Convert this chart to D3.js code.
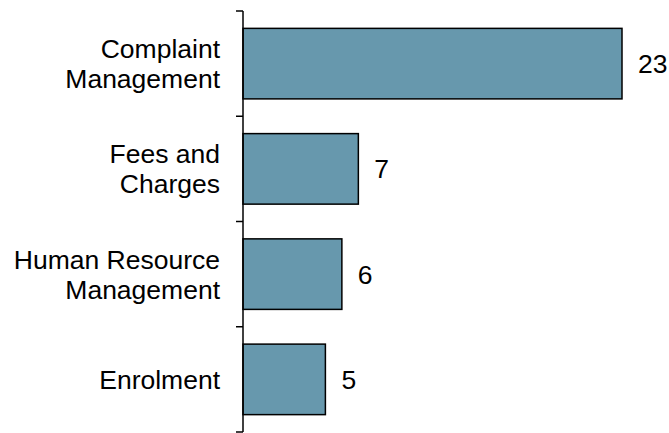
<!DOCTYPE html>
<html>
<head>
<meta charset="utf-8">
<script src="https://cdn.jsdelivr.net/npm/d3@7"></script>
<style>
  body { margin: 0; background: #fff; }
  text { font-family: "Liberation Sans", Arial, sans-serif; }
</style>
</head>
<body>
<div id="chart"></div>
<script>
// data
const categories = ['Complaint Management', 'Fees and Charges', 'Human Resource Management', 'Enrolment'];
const labelLines = [['Complaint', 'Management'], ['Fees and', 'Charges'], ['Human Resource', 'Management'], ['Enrolment']];
const values = [23, 7, 6, 5];

const width = 669, height = 433;
const axisX = 243, yTop = 11, yBottom = 432;

const svg = d3.select('#chart').append('svg')
  .attr('width', width)
  .attr('height', height);

const x = d3.scaleLinear().domain([0, 23]).range([axisX, 622]);
const y = d3.scaleBand().domain(categories).range([yTop, yBottom])
  .paddingInner(0.33).paddingOuter(0.165);

const step = y.step();

// bars
svg.selectAll('rect.bar')
  .data(categories)
  .enter().append('rect')
  .attr('class', 'bar')
  .attr('x', x(0))
  .attr('y', d => y(d))
  .attr('width', (d, i) => x(values[i]) - x(0))
  .attr('height', y.bandwidth())
  .attr('fill', '#6798ad')
  .attr('stroke', '#000')
  .attr('stroke-width', 1.5);

// axis line + boundary ticks
svg.append('line')
  .attr('x1', axisX).attr('x2', axisX)
  .attr('y1', yTop).attr('y2', yBottom)
  .attr('stroke', '#000').attr('stroke-width', 1.5);

d3.range(categories.length + 1).forEach(i => {
  const yy = yTop + i * step;
  svg.append('line')
    .attr('x1', axisX - 7).attr('x2', axisX)
    .attr('y1', yy).attr('y2', yy)
    .attr('stroke', '#000').attr('stroke-width', 1.5);
});

// category labels
const fs = 26.5, lh = 30;
categories.forEach((c, i) => {
  const lines = labelLines[i];
  const cy = y(c) + y.bandwidth() / 2;
  const first = cy + fs * 0.36 - (lines.length - 1) * lh / 2;
  const t = svg.append('text')
    .attr('text-anchor', 'end')
    .attr('font-size', fs)
    .attr('fill', '#000');
  lines.forEach((l, j) => {
    t.append('tspan').attr('x', 220).attr('y', first + j * lh).text(l);
  });
});

// value labels
svg.selectAll('text.val')
  .data(categories)
  .enter().append('text')
  .attr('class', 'val')
  .attr('x', (d, i) => x(values[i]) + 16)
  .attr('y', d => y(d) + y.bandwidth() / 2 + fs * 0.36)
  .attr('font-size', fs)
  .attr('fill', '#000')
  .text((d, i) => values[i]);
</script>
</body>
</html>
